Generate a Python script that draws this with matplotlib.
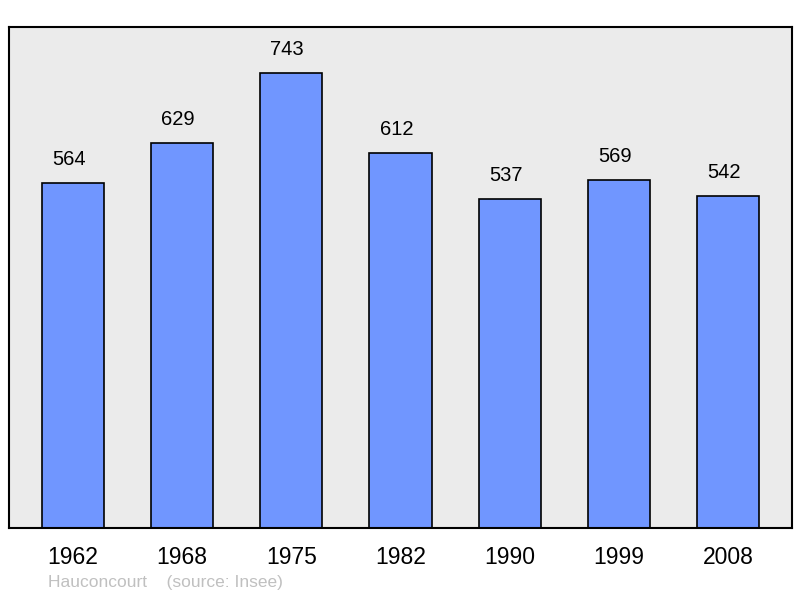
import matplotlib.pyplot as plt

plt.rcParams['font.family'] = ['Liberation Sans', 'DejaVu Sans']

# population data
years = ['1962', '1968', '1975', '1982', '1990', '1999', '2008']
population = [564, 629, 743, 612, 537, 569, 542]

fig = plt.figure(figsize=(8, 5.98), dpi=100)
ax = fig.add_axes([9 / 800, 70 / 598, 783 / 800, 501 / 598])
ax.set_facecolor('#ebebeb')

x = range(len(years))
ax.bar(x, population, width=0.57, color='#7096ff', edgecolor='black', linewidth=1.2)

for xi, v in zip(x, population):
    ax.annotate(str(v), (xi, v), xytext=(-3, 10), textcoords='offset points',
                ha='center', va='bottom', fontsize=14.5)

ax.set_xlim(-0.585, 6.585)
ax.set_ylim(0, 818)
ax.set_yticks([])
ax.set_xticks(list(x))
ax.set_xticklabels(years, fontsize=16.5)
ax.tick_params(axis='x', length=0, pad=13)
for s in ax.spines.values():
    s.set_linewidth(1.5)

fig.text(48 / 800, 1 - 583 / 598, 'Hauconcourt    (source: Insee)', color='#c0c0c0',
         fontsize=12.5, va='center', ha='left')

plt.savefig('out.png', dpi=100)
